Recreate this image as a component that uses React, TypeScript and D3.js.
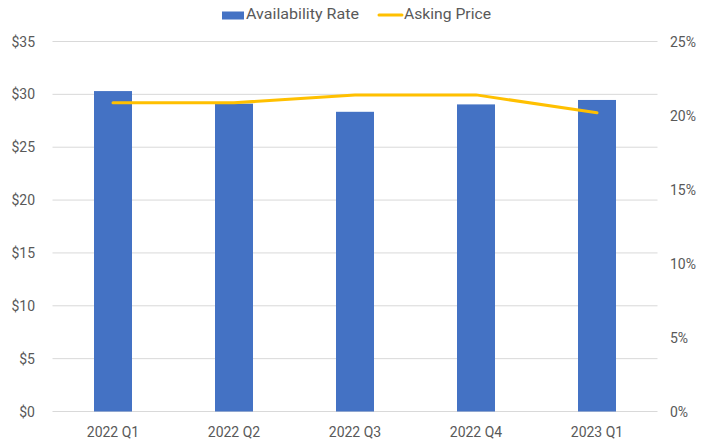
import React from "react";
import * as d3 from "d3";

const categories = ["2022 Q1", "2022 Q2", "2022 Q3", "2022 Q4", "2023 Q1"];
const availabilityRate = [21.65, 20.8, 20.25, 20.75, 21.05];
const askingPrice = [29.2, 29.2, 29.95, 29.95, 28.25];
const leftTicks = [0, 5, 10, 15, 20, 25, 30, 35];
const rightTicks = [0, 5, 10, 15, 20, 25];

export default function App() {
  const W = 702, H = 441;
  const left = 52.5, right = 657.5, top = 41.5, bottom = 411.5;
  const x = d3.scaleBand().domain(categories).range([left, right]);
  const yL = d3.scaleLinear().domain([0, 35]).range([bottom, top]);
  const yR = d3.scaleLinear().domain([0, 25]).range([bottom, top]);
  const barW = 38;
  const font = "Roboto, 'Liberation Sans', sans-serif";
  const textColor = "#595959";
  const line = d3
    .line<number>()
    .x((_, i) => (x(categories[i]) as number) + x.bandwidth() / 2)
    .y((d) => yL(d));

  return (
    <svg
      width={W}
      height={H}
      style={{ position: "absolute", left: 0, top: 0 }}
      fontFamily={font}
    >
      <rect width={W} height={H} fill="#fff" />
      {leftTicks.map((t) => (
        <line key={t} x1={left} x2={right} y1={yL(t)} y2={yL(t)} stroke="#d9d9d9" strokeWidth={1} />
      ))}
      {leftTicks.map((t) => (
        <text key={"l" + t} x={35} y={yL(t) + 5} textAnchor="end" fontSize={14} fill={textColor}>
          {"$" + t}
        </text>
      ))}
      {rightTicks.map((t) => (
        <text key={"r" + t} x={670} y={yR(t) + 5} textAnchor="start" fontSize={14} fill={textColor}>
          {t + "%"}
        </text>
      ))}
      {categories.map((c, i) => (
        <rect
          key={c}
          x={(x(c) as number) + x.bandwidth() / 2 - barW / 2}
          y={yR(availabilityRate[i])}
          width={barW}
          height={bottom - yR(availabilityRate[i])}
          fill="#4472C4"
        />
      ))}
      <path d={line(askingPrice) || ""} fill="none" stroke="#FFC000" strokeWidth={3} strokeLinecap="round" strokeLinejoin="round" />
      {categories.map((c) => (
        <text key={"x" + c} x={(x(c) as number) + x.bandwidth() / 2} y={437} textAnchor="middle" fontSize={14} fill={textColor}>
          {c}
        </text>
      ))}
      <g>
        <rect x={222} y={11.5} width={22} height={8} fill="#4472C4" />
        <text x={246} y={19} fontSize={15} fill={textColor} textLength={113} lengthAdjust="spacingAndGlyphs">Availability Rate</text>
        <line x1={379} x2={402} y1={15} y2={15} stroke="#FFC000" strokeWidth={3} strokeLinecap="round" />
        <text x={404} y={19} fontSize={15} fill={textColor} textLength={87} lengthAdjust="spacingAndGlyphs">Asking Price</text>
      </g>
    </svg>
  );
}
